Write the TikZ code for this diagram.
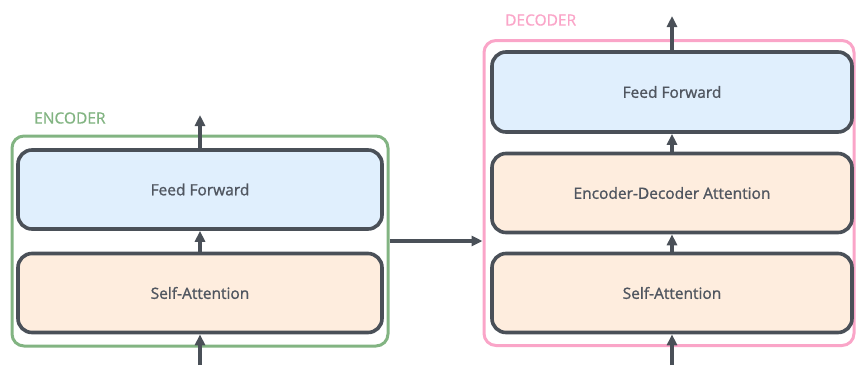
\documentclass[tikz,border=0pt]{standalone}
\usepackage{fontspec}
\setmainfont{Open Sans}[FakeBold=1.2]
\newfontfamily\labelfont{Open Sans}[FakeBold=0.6]
\usetikzlibrary{arrows.meta}
\definecolor{edgegray}{RGB}{74,80,88}
\definecolor{textgray}{RGB}{80,86,96}
\definecolor{ffblue}{RGB}{224,239,253}
\definecolor{attorange}{RGB}{254,237,222}
\definecolor{encgreen}{RGB}{130,180,130}
\definecolor{decpink}{RGB}{250,165,200}
\tikzset{
  layer/.style={draw=edgegray, line width=3.6pt, rounded corners=14pt, text=textgray,
    font=\fontsize{15.5}{18}\selectfont, inner sep=0pt},
  outer/.style={line width=3pt, rounded corners=12pt, fill=none, inner sep=0pt},
  flow/.style={draw=edgegray, line width=3.4pt, -{Triangle[length=11pt,width=10pt]}},
  title/.style={font=\labelfont\fontsize{15.5}{18}\selectfont, anchor=west, inner sep=0pt}
}
\begin{document}
\begin{tikzpicture}[x=1pt,y=-1pt]
\useasboundingbox (0,0) rectangle (856,365);
% encoder
\node[outer, draw=encgreen, minimum width=376pt, minimum height=210pt] (enc) at (200,241) {};
\node[title, text=encgreen] (enclabel) at (34,118) {ENCODER};
\node[layer, fill=ffblue, minimum width=364pt, minimum height=79pt] (eff) at (200,189.5) {Feed Forward};
\node[layer, fill=attorange, minimum width=364pt, minimum height=79pt] (esa) at (200,293) {Self-Attention};
\coordinate (ein) at (200,365);
\coordinate (eout) at (200,115);
\draw[flow] (ein) -- (esa.south);
\draw[flow] (esa.north) -- (eff.south);
\draw[flow] (eff.north) -- (eout);
% decoder
\node[outer, draw=decpink, minimum width=370pt, minimum height=305pt] (dec) at (669,193) {};
\node[title, text=decpink] (declabel) at (505,20) {DECODER};
\node[layer, fill=ffblue, minimum width=360pt, minimum height=80pt] (dff) at (672,92) {Feed Forward};
\node[layer, fill=attorange, minimum width=360pt, minimum height=79pt] (deda) at (672,193) {Encoder-Decoder Attention};
\node[layer, fill=attorange, minimum width=360pt, minimum height=79pt] (dsa) at (672,293) {Self-Attention};
\coordinate (din) at (672,365);
\coordinate (dout) at (672,16);
\draw[flow] (din) -- (dsa.south);
\draw[flow] (dsa.north) -- (deda.south);
\draw[flow] (deda.north) -- (dff.south);
\draw[flow] (dff.north) -- (dout);
% encoder to decoder
\draw[flow] (enc.east |- 0,241) -- (dec.west |- 0,241);
\end{tikzpicture}
\end{document}
